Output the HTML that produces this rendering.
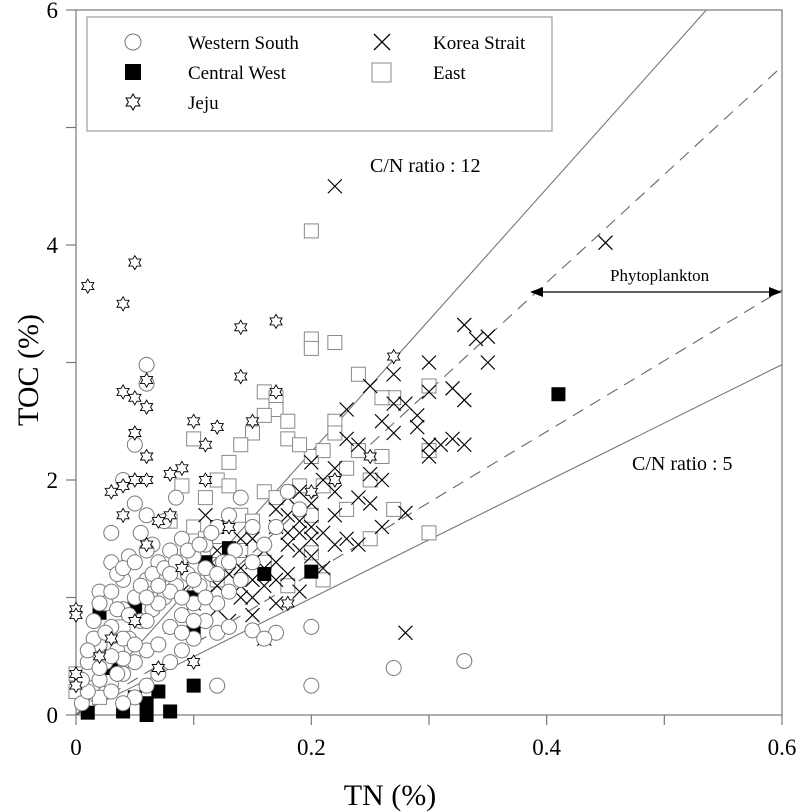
<!DOCTYPE html>
<html><head><meta charset="utf-8"><style>
html,body{margin:0;padding:0;background:#fff;}
svg{display:block;font-family:"Liberation Serif",serif;}
</style></head><body>
<svg id="chart" width="800" height="812" viewBox="0 0 800 812" xmlns="http://www.w3.org/2000/svg">
<g id="axes"></g>
<g id="refs"></g>
<g id="marks"></g>
<g>
<rect x="87" y="17" width="465" height="114" fill="#fff" stroke="#888" stroke-width="1"/>
<circle cx="133" cy="42" r="8" fill="#fff" stroke="#777"/>
<text x="188" y="49" font-size="19">Western South</text>
<rect x="125" y="64" width="16" height="16" fill="#000"/>
<text x="188" y="79" font-size="19">Central West</text>
<polygon id="legstar" fill="#fff" stroke="#000"/>
<text x="188" y="109" font-size="19">Jeju</text>
<path d="M374 34 L390 50 M390 34 L374 50" stroke="#000" stroke-width="1.3"/>
<text x="433" y="49" font-size="19">Korea Strait</text>
<rect x="372" y="63" width="19" height="19" fill="#fff" stroke="#888"/>
<text x="433" y="79" font-size="19">East</text>
</g>
<text x="370" y="172" font-size="20">C/N ratio : 12</text>
<text x="632" y="470" font-size="20">C/N ratio : 5</text>
<text x="610" y="281" font-size="17">Phytoplankton</text>
<g>
<line x1="532" y1="292" x2="780" y2="292" stroke="#000" stroke-width="1.2"/>
<polygon points="530,292 543,287 543,297" fill="#000"/>
<polygon points="782,292 769,287 769,297" fill="#000"/>
</g>
<text transform="translate(38,370) rotate(-90)" text-anchor="middle" font-size="30">TOC (%)</text>
<text x="390" y="805" text-anchor="middle" font-size="30">TN (%)</text>
</svg>
<script>
const xTicks=[0,0.1,0.2,0.3,0.4,0.5,0.6];
const xTickLabels=["0","","0.2","","0.4","","0.6"];
const yTicks=[0,1,2,3,4,5,6];
const yTickLabels=["0","","2","","4","","6"];
const refSlopes=[11.2,4.97];
const dashSlopes=[9.2,6.03];
const wsTN=[0.005,0.01,0.01,0.015,0.02,0.02,0.025,0.03,0.03,0.035,0.04,0.04,0.045,0.05,0.05,0.055,0.06,0.06,0.065,0.07,0.07,0.075,0.08,0.08,0.085,0.09,0.09,0.095,0.1,0.1,0.105,0.11,0.11,0.115,0.12,0.12,0.125,0.13,0.13,0.135,0.14,0.14,0.15,0.15,0.16,0.17,0.18,0.19,0.02,0.03,0.04,0.03,0.05,0.04,0.06,0.025,0.015,0.035,0.045,0.055,0.065,0.075,0.085,0.07,0.06,0.05,0.04,0.09,0.1,0.08,0.12,0.13,0.15,0.06,0.06,0.05,0.12,0.2,0.2,0.27,0.33,0.17,0.16,0.04,0.06,
0.005,0.01,0.015,0.02,0.025,0.03,0.035,0.04,0.045,0.05,0.055,0.06,0.065,0.07,0.075,0.08,0.085,0.09,0.095,0.1,0.105,0.11,0.115,0.02,0.03,0.04,0.05,0.06,0.07,0.08,0.09,0.1,0.11,0.12,0.13,0.01,0.035];
const wsTOC=[0.1,0.2,0.35,0.5,0.3,0.6,0.45,0.2,0.75,0.55,0.35,0.9,0.65,0.45,1.0,0.8,0.55,1.15,0.9,0.6,1.3,1.0,0.75,1.4,1.1,0.85,1.5,1.2,0.95,1.35,1.1,0.8,1.45,1.2,0.95,1.6,1.3,1.05,1.7,1.4,1.15,1.85,1.3,1.6,1.45,1.6,1.9,1.75,1.05,1.3,1.15,1.55,1.8,2.0,1.7,0.95,0.8,1.2,1.35,1.55,1.45,1.65,1.85,0.35,0.25,0.15,0.1,0.55,0.65,0.45,0.7,0.75,0.72,2.98,2.82,2.3,0.25,0.25,0.75,0.4,0.46,0.7,0.65,0.48,1.4,
0.3,0.45,0.65,0.4,0.7,0.5,0.9,0.65,0.85,0.6,1.1,0.8,1.2,0.95,1.25,1.05,1.3,1.0,1.4,1.15,1.45,1.25,1.55,0.95,1.05,1.25,1.3,1.0,1.1,1.2,0.7,0.8,1.0,1.2,1.3,0.55,0.35];
const cwTN=[0.02,0.02,0.04,0.05,0.06,0.06,0.07,0.08,0.1,0.1,0.13,0.2,0.41,0.12,0.11,0.16,0.05,0.03,0.1,0.01];
const cwTOC=[0.87,0.6,0.03,0.15,0.1,0.0,0.2,0.03,0.25,0.72,1.42,1.22,2.73,1.6,1.3,1.2,0.9,0.4,1.0,0.02];
const jjTN=[0.01,0.04,0.05,0.04,0.05,0.06,0.06,0.05,0.05,0.04,0.06,0.14,0.17,0.14,0.17,0.12,0.06,0.08,0.09,0.03,0.04,0.07,0.11,0.1,0.27,0.2,0.13,0.0,0.0,0.0,0.0,0.02,0.03,0.05,0.07,0.1,0.18,0.09,0.08,0.15,0.06,0.25,0.22,0.11];
const jjTOC=[3.65,3.5,3.85,2.75,2.7,2.62,2.85,2.4,2.0,1.95,1.45,3.3,3.35,2.88,2.75,2.45,2.0,2.05,2.1,1.9,1.7,1.65,2.3,2.5,3.05,1.9,1.6,0.9,0.85,0.35,0.25,0.5,0.65,0.8,0.4,0.45,0.95,1.25,1.7,2.5,2.2,2.2,2.0,2.0];
const ksTN=[0.22,0.45,0.33,0.34,0.35,0.35,0.3,0.3,0.25,0.27,0.28,0.29,0.32,0.33,0.31,0.32,0.3,0.26,0.27,0.23,0.24,0.22,0.2,0.21,0.19,0.2,0.18,0.22,0.24,0.25,0.26,0.28,0.26,0.23,0.21,0.19,0.17,0.18,0.16,0.15,0.14,0.13,0.12,0.14,0.16,0.18,0.2,0.22,0.11,0.1,0.12,0.15,0.17,0.19,0.21,0.24,0.28,0.13,0.09,0.16,0.23,0.19,0.15,0.2,0.17,0.25,0.22,0.29,0.33,0.27,0.3,0.14,0.18,0.1,0.12,
0.13,0.14,0.15,0.16,0.17,0.18,0.19,0.2,0.11,0.12,0.15,0.17];
const ksTOC=[4.5,4.02,3.32,3.2,3.22,3.0,3.0,2.75,2.8,2.65,2.65,2.55,2.78,2.68,2.3,2.35,2.2,2.5,2.4,2.35,2.3,2.1,2.15,2.0,1.9,1.8,1.7,1.7,1.85,1.8,2.0,1.72,1.6,1.5,1.55,1.55,1.6,1.45,1.4,1.3,1.25,1.2,1.1,1.0,1.1,1.2,1.35,1.45,1.7,1.35,0.9,0.85,0.95,1.05,1.25,1.45,0.7,0.8,1.05,0.65,2.6,1.65,1.5,1.6,1.3,2.05,1.9,2.45,2.3,2.9,2.3,1.1,1.85,0.95,1.4,
1.35,1.5,1.15,1.25,1.75,1.55,1.4,1.5,1.0,1.25,1.0,1.15];
const eaTN=[0.2,0.2,0.2,0.22,0.24,0.27,0.3,0.22,0.25,0.27,0.3,0.3,0.25,0.2,0.17,0.16,0.17,0.17,0.18,0.18,0.16,0.15,0.14,0.13,0.12,0.13,0.11,0.1,0.09,0.1,0.11,0.08,0.12,0.14,0.15,0.16,0.17,0.2,0.21,0.22,0.23,0.24,0.26,0.19,0.21,0.26,0.2,0.19,0.14,0.16,0.18,0.21,0.23,0.07,0.06,0.05,0.04,0.0,0.0,0.03,0.02,0.09,0.12];
const eaTOC=[4.12,3.2,3.12,3.17,2.9,2.7,2.8,2.5,2.0,1.75,2.25,1.55,1.5,1.38,2.6,2.75,2.7,2.6,2.5,2.35,2.55,2.4,2.3,2.15,2.0,1.95,1.85,2.35,1.95,1.6,1.5,1.65,1.4,1.7,1.65,1.9,1.85,2.2,2.25,2.4,2.1,2.25,2.2,1.95,1.95,2.7,1.7,2.3,1.4,1.3,1.1,1.15,1.75,1.15,1.1,0.95,0.75,0.35,0.2,0.3,0.15,1.3,1.15];

const X0=76,X1=782,Y0=715,Y1=10;
const sx=v=>X0+(v-0)/(0.6-0)*(X1-X0);
const sy=v=>Y0-(v-0)/(6-0)*(Y0-Y1);
const NS="http://www.w3.org/2000/svg";
function mk(tag,parent,attrs){const e=document.createElementNS(NS,tag);for(const k in attrs)e.setAttribute(k,attrs[k]);parent.appendChild(e);return e;}
function starPts(cx,cy,r){const p=[];for(let i=0;i<12;i++){const a=-Math.PI/2+i*Math.PI/6;const rr=i%2===0?r:r*0.577;p.push((cx+rr*Math.cos(a)).toFixed(1)+","+(cy+rr*Math.sin(a)).toFixed(1));}return p.join(" ");}
document.getElementById('legstar').setAttribute('points',starPts(133,102,8));

const axes=document.getElementById('axes');
const frame=mk('rect',axes,{x:X0,y:Y1,width:X1-X0,height:Y0-Y1,fill:'none',stroke:'#777','stroke-width':1.2});


xTicks.forEach((t,i)=>{
  const l=mk('line',axes,{x1:sx(t),x2:sx(t),y1:Y0,y2:Y0+10,stroke:'#777','stroke-width':1.2});
  
  
  if(xTickLabels[i]){const tx=mk('text',axes,{x:sx(t),y:Y0+40,'text-anchor':'middle','font-size':23});tx.textContent=xTickLabels[i];
  
  }
});
yTicks.forEach((t,i)=>{
  const l=mk('line',axes,{x1:X0-10,x2:X0,y1:sy(t),y2:sy(t),stroke:'#777','stroke-width':1.2});
  
  
  if(yTickLabels[i]){const tx=mk('text',axes,{x:X0-18,y:sy(t)+8,'text-anchor':'end','font-size':23});tx.textContent=yTickLabels[i];
  
  }
});
const refs=document.getElementById('refs');
refSlopes.forEach(s=>{
  let xe=0.6,ye=s*0.6; if(ye>6){ye=6;xe=6/s;}
  const l=mk('line',refs,{x1:sx(0),y1:sy(0),x2:sx(xe),y2:sy(ye),stroke:'#777','stroke-width':1.1});
  
  
});
dashSlopes.forEach(s=>{
  const l=mk('line',refs,{x1:sx(0),y1:sy(0),x2:sx(0.6),y2:sy(s*0.6),stroke:'#666','stroke-width':1.1,'stroke-dasharray':'12,8'});
  
  
});
const marks=document.getElementById('marks');
eaTN.forEach((v,i)=>{const e=mk('rect',marks,{x:sx(v)-7,y:sy(eaTOC[i])-7,width:14,height:14,fill:'#fff',stroke:'#888','stroke-width':1});
  
  });
ksTN.forEach((v,i)=>{const x=sx(v),y=sy(ksTOC[i]);const e=mk('path',marks,{d:`M${x-7} ${y-7}L${x+7} ${y+7}M${x+7} ${y-7}L${x-7} ${y+7}`,stroke:'#000','stroke-width':1.2,fill:'none'});
  
  });
cwTN.forEach((v,i)=>{const e=mk('rect',marks,{x:sx(v)-7,y:sy(cwTOC[i])-7,width:14,height:14,fill:'#000'});
  
  });
wsTN.forEach((v,i)=>{const e=mk('circle',marks,{cx:sx(v),cy:sy(wsTOC[i]),r:7.5,fill:'#fff',stroke:'#777','stroke-width':1});
  
  });
jjTN.forEach((v,i)=>{const e=mk('polygon',marks,{points:starPts(sx(v),sy(jjTOC[i]),7),fill:'#fff',stroke:'#000','stroke-width':0.9});
  
  });
</script>
</body></html>
